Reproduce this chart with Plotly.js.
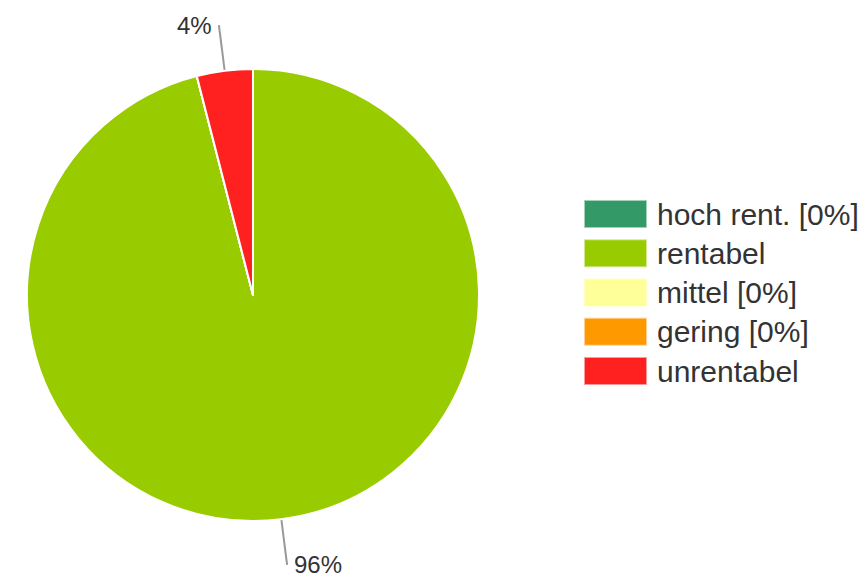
<!DOCTYPE html>
<html>
<head>
<meta charset="utf-8">
<script src="https://cdn.plot.ly/plotly-3.0.1.min.js"></script>
<style>html,body{margin:0;padding:0;background:#fff;}#chart{width:862px;height:580px;}</style>
</head>
<body>
<div id="chart"></div>
<script>
// ---- data ----
const labels = ['hoch rent. [0%]', 'rentabel', 'mittel [0%]', 'gering [0%]', 'unrentabel'];
const values = [0, 96, 0, 0, 4];
const colors = ['#339966', '#99cc00', '#ffff99', '#ff9900', '#ff2020'];
const edgeColors = ['rgba(51,153,102,0.45)', 'rgba(153,204,0,0.45)', 'rgba(255,255,153,0.6)', 'rgba(255,153,0,0.45)', 'rgba(255,32,32,0.45)'];

// ---- layout geometry ----
const W = 862, H = 580;
const margin = {l: 0, r: 0, t: 68, b: 58, pad: 0};
const plotW = W - margin.l - margin.r, plotH = H - margin.t - margin.b;
const domX = [27 / plotW, 479 / plotW];
const cx = margin.l + (domX[0] + domX[1]) / 2 * plotW;
const cy = margin.t + plotH / 2;
const R = Math.min((domX[1] - domX[0]) * plotW, plotH) / 2;
const toPX = px => (px - margin.l) / plotW;
const toPY = py => 1 - (py - margin.t) / plotH;

const font = 'Liberation Sans, Arial, sans-serif';
const shapes = [], annotations = [];

// leader lines + percentage labels computed from values
const total = values.reduce((a, b) => a + b, 0);
let cum = 0;
values.forEach((v, i) => {
  if (v > 0) {
    const th = (cum + v / 2) / total * 2 * Math.PI; // clockwise from top
    const s = Math.sin(th), c = Math.cos(th);
    const x0 = cx + (R + 1) * s, y0 = cy - (R + 1) * c;
    const L = 46;
    const x1 = cx + (R + L) * s, y1 = cy - (R + L) * c;
    shapes.push({type: 'line', xref: 'paper', yref: 'paper', x0: toPX(x0), y0: toPY(y0), x1: toPX(x1), y1: toPY(y1),
      line: {color: '#999999', width: 2}});
    const left = s < 0;
    annotations.push({xref: 'paper', yref: 'paper', x: toPX(x1 + (left ? -5 : 5)), y: toPY(y1),
      xanchor: left ? 'right' : 'left', yanchor: 'middle', showarrow: false,
      text: Math.round(v / total * 100) + '%', font: {family: font, size: 24, color: '#333333'}});
  }
  cum += v;
});

// custom legend
const legX0 = 585, legX1 = 646, legTop = 214, legStep = 39.25, boxH = 26;
labels.forEach((lab, i) => {
  const yc = legTop + i * legStep;
  shapes.push({type: 'rect', xref: 'paper', yref: 'paper', x0: toPX(legX0), x1: toPX(legX1),
    y0: toPY(yc - boxH / 2), y1: toPY(yc + boxH / 2), fillcolor: colors[i], line: {color: edgeColors[i], width: 2}});
  annotations.push({xref: 'paper', yref: 'paper', x: toPX(655), y: toPY(yc), xanchor: 'left', yanchor: 'middle',
    showarrow: false, text: lab, font: {family: font, size: 30, color: '#333333'}});
});

const trace = {
  type: 'pie', labels: labels, values: values, sort: false, direction: 'clockwise', rotation: 0,
  marker: {colors: colors, line: {color: '#ffffff', width: 2}},
  textinfo: 'none', hoverinfo: 'label+percent', showlegend: false,
  domain: {x: domX, y: [0, 1]}
};

const layout = {
  width: W, height: H, margin: margin, showlegend: false,
  paper_bgcolor: '#ffffff', plot_bgcolor: '#ffffff',
  shapes: shapes, annotations: annotations
};

Plotly.newPlot('chart', [trace], layout, {displayModeBar: false, staticPlot: true});
</script>
</body>
</html>
